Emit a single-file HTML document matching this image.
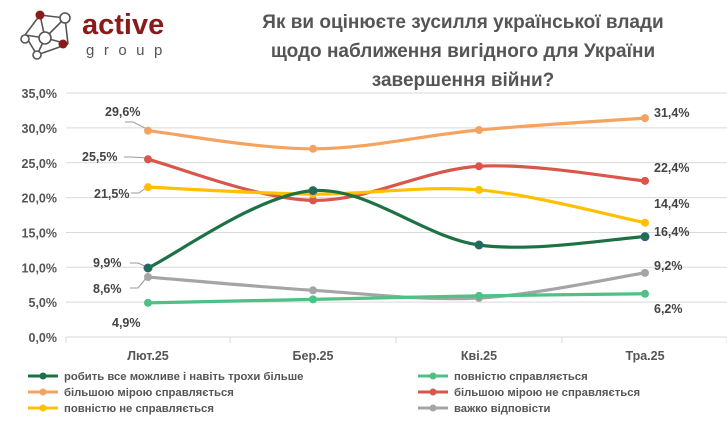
<!DOCTYPE html><html><head><meta charset="utf-8"><style>
body{margin:0;background:#fff;width:727px;height:422px;overflow:hidden;font-family:"Liberation Sans",sans-serif}
</style></head><body>
<svg id="s" width="727" height="422" xmlns="http://www.w3.org/2000/svg" font-family="Liberation Sans, sans-serif">
<g stroke="#555" stroke-width="1.6" fill="#fff">
<line x1="25" y1="35" x2="40" y2="15"/><line x1="40" y1="15" x2="65" y2="18"/><line x1="65" y1="18" x2="68" y2="44"/><line x1="25" y1="35" x2="45" y2="38"/><line x1="45" y1="38" x2="65" y2="18"/><line x1="45" y1="38" x2="68" y2="44"/><line x1="25" y1="35" x2="37" y2="55"/><line x1="37" y1="55" x2="68" y2="44"/><line x1="40" y1="15" x2="45" y2="38"/><line x1="45" y1="38" x2="37" y2="55"/>
<circle cx="65" cy="18" r="5"/><circle cx="45" cy="38" r="6"/><circle cx="25" cy="39" r="4"/><circle cx="37" cy="55" r="4"/>
</g>
<circle cx="40" cy="15" r="4.5" fill="#8b1a1a"/><circle cx="63" cy="44" r="4.5" fill="#8b1a1a"/>
<text x="82" y="34" font-size="29" font-weight="bold" fill="#8b1a1a">active</text>
<text x="86" y="55" font-size="15" fill="#555" letter-spacing="9.5">group</text>
<g font-size="19" font-weight="bold" fill="#555" text-anchor="middle">
<text x="463" y="28">Як ви оцінюєте зусилля української влади</text>
<text x="463" y="57">щодо наближення вигідного для України</text>
<text x="463" y="86">завершення війни?</text></g>
<g id="g"></g>
</svg>
<script>
const s=document.getElementById('g');let h='';
const y0=337,k=6.97,xs=[148,313,479,645];
for(let i=0;i<=7;i++){const y=y0-i*5*k;h+=`<line x1="66" x2="727" y1="${y}" y2="${y}" stroke="#d9d9d9"/>`;
h+=`<text x="57" y="${y+5}" font-size="12.5" font-weight="bold" fill="#555" text-anchor="end">${i*5},0%</text>`;}
[66,230,396,562,727].forEach(x=>h+=`<line x1="${x}" x2="${x}" y1="${y0}" y2="${y0+6}" stroke="#d9d9d9"/>`);
['Лют.25','Бер.25','Кві.25','Тра.25'].forEach((t,i)=>h+=`<text x="${xs[i]}" y="360" font-size="12.5" font-weight="bold" fill="#555" text-anchor="middle">${t}</text>`);
[[125,122,147,129],[124,157,147,158],[131,193,147,187],[130,263,147,267],[130,288,147,277]].forEach(([a,b,c,d])=>h+=`<polyline points="${a},${b} ${a+8},${b} ${c},${d}" fill="none" stroke="#999"/>`);
const S=[['#f4a460',[29.6,27,29.7,31.4]],['#d9574a',[25.5,19.6,24.5,22.4]],['#ffc000',[21.5,20.5,21.1,16.4]],['#1e7145',[9.9,21,13.2,14.4]],['#a5a5a5',[8.6,6.7,5.6,9.2]],['#4fc185',[4.9,5.4,5.9,6.2]]];
S.forEach(([c,v])=>{const p=v.map((d,i)=>[xs[i],y0-d*k]);let d=`M${p[0]}`;
for(let i=0;i<3;i++){const a=p[i-1]||p[i],b=p[i],e=p[i+1],f=p[i+2]||e;
d+=`C${b[0]+(e[0]-a[0])/6},${b[1]+(e[1]-a[1])/6} ${e[0]-(f[0]-b[0])/6},${e[1]-(f[1]-b[1])/6} ${e}`;}
h+=`<path d="${d}" fill="none" stroke="${c}" stroke-width="3.2"/>`;
p.forEach(q=>h+=`<circle cx="${q[0]}" cy="${q[1]}" r="4" fill="${c}" ${c=='#1e7145'?'stroke="#2e5e9e" stroke-width="1"':''}/>`);});
const L=[[105,116,'29,6%'],[82,161,'25,5%'],[94,198,'21,5%'],[93,267,'9,9%'],[93,293,'8,6%'],[112,327,'4,9%'],[654,117,'31,4%'],[654,172,'22,4%'],[654,208,'14,4%'],[654,236,'16,4%'],[654,270,'9,2%'],[654,313,'6,2%']];
L.forEach(([x,y,t])=>h+=`<text x="${x}" y="${y}" font-size="12.5" font-weight="bold" fill="#444">${t}</text>`);
const G=[['#1e7145','робить все можливе і навіть трохи більше',28,376],['#4fc185','повністю справляється',418,376],['#f4a460','більшою мірою справляється',28,392],['#d9574a','більшою мірою не справляється',418,392],['#ffc000','повністю не справляється',28,408],['#a5a5a5','важко відповісти',418,408]];
G.forEach(([c,t,x,y])=>h+=`<line x1="${x}" x2="${x+30}" y1="${y}" y2="${y}" stroke="${c}" stroke-width="3"/><circle cx="${x+15}" cy="${y}" r="3.5" fill="${c}"/><text x="${x+36}" y="${y+4}" font-size="11.3" font-weight="bold" fill="#555">${t}</text>`);
s.innerHTML=h;
</script></body></html>
